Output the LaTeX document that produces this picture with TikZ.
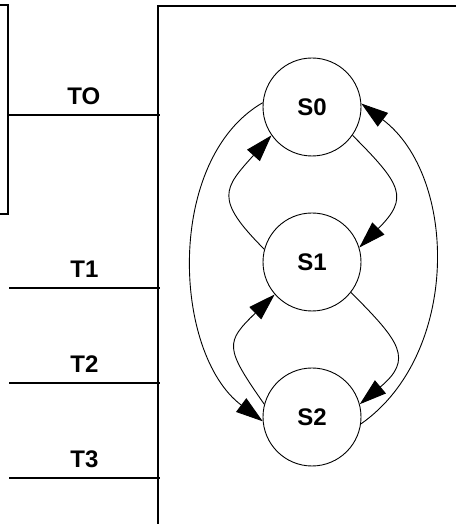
\documentclass[tikz,border=0pt]{standalone}
\usepackage{fontspec}
\setmainfont{Liberation Sans}
\usetikzlibrary{arrows.meta}
\definecolor{INK}{HTML}{000000}

\begin{document}
\begin{tikzpicture}[x=1pt,y=1pt]
\tikzset{wall/.style={line width=2pt,INK},
 st/.style={circle,draw=INK,line width=0.9pt,minimum size=98pt,inner sep=0pt,font=\fontsize{24}{28}\selectfont\bfseries},
 tr/.style={line width=0.9pt,INK,-{Triangle[length=27pt,width=17pt]}},
 lbl/.style={midway,above=9pt,inner sep=0pt,font=\fontsize{24}{28}\selectfont\bfseries}}
\useasboundingbox (0,0) rectangle (456,524);
% boxes
\draw[wall] (0,519)--(7.5,519)--(7.5,310)--(0,310);
\draw[wall] (456,518)--(158,518)--(158,0);
% inputs
\coordinate (to0) at (7.5,409); \coordinate (to1) at (160,409);
\coordinate (t10) at (9,236); \coordinate (t11) at (160,236);
\coordinate (t20) at (9,141); \coordinate (t21) at (160,141);
\coordinate (t30) at (9,46); \coordinate (t31) at (160,46);
\draw[wall] (to0)--(to1) node[lbl]{TO};
\draw[wall] (t10)--(t11) node[lbl]{T1};
\draw[wall] (t20)--(t21) node[lbl]{T2};
\draw[wall] (t30)--(t31) node[lbl]{T3};
% states
\node[st] (s0) at (312,417) {S0};
\node[st] (s1) at (312,262) {S1};
\node[st] (s2) at (312,107) {S2};
\draw[tr] (s0.-35) to[out=-45,in=45,looseness=1.6] (s1.17);
\draw[tr] (s1.165) to[out=135,in=228,looseness=1.6] (s0.215);
\draw[tr] (s1.-38) to[out=-45,in=40,looseness=1.6] (s2.15);
\draw[tr] (s2.165) to[out=125,in=224,looseness=1.6] (s1.221);
\draw[tr] (s0.175) to[out=210,in=143,looseness=0.91] (s2.185);
\draw[tr] (s2.-8) to[out=35,in=-37,looseness=0.97] (s0.4);
\end{tikzpicture}
\end{document}
